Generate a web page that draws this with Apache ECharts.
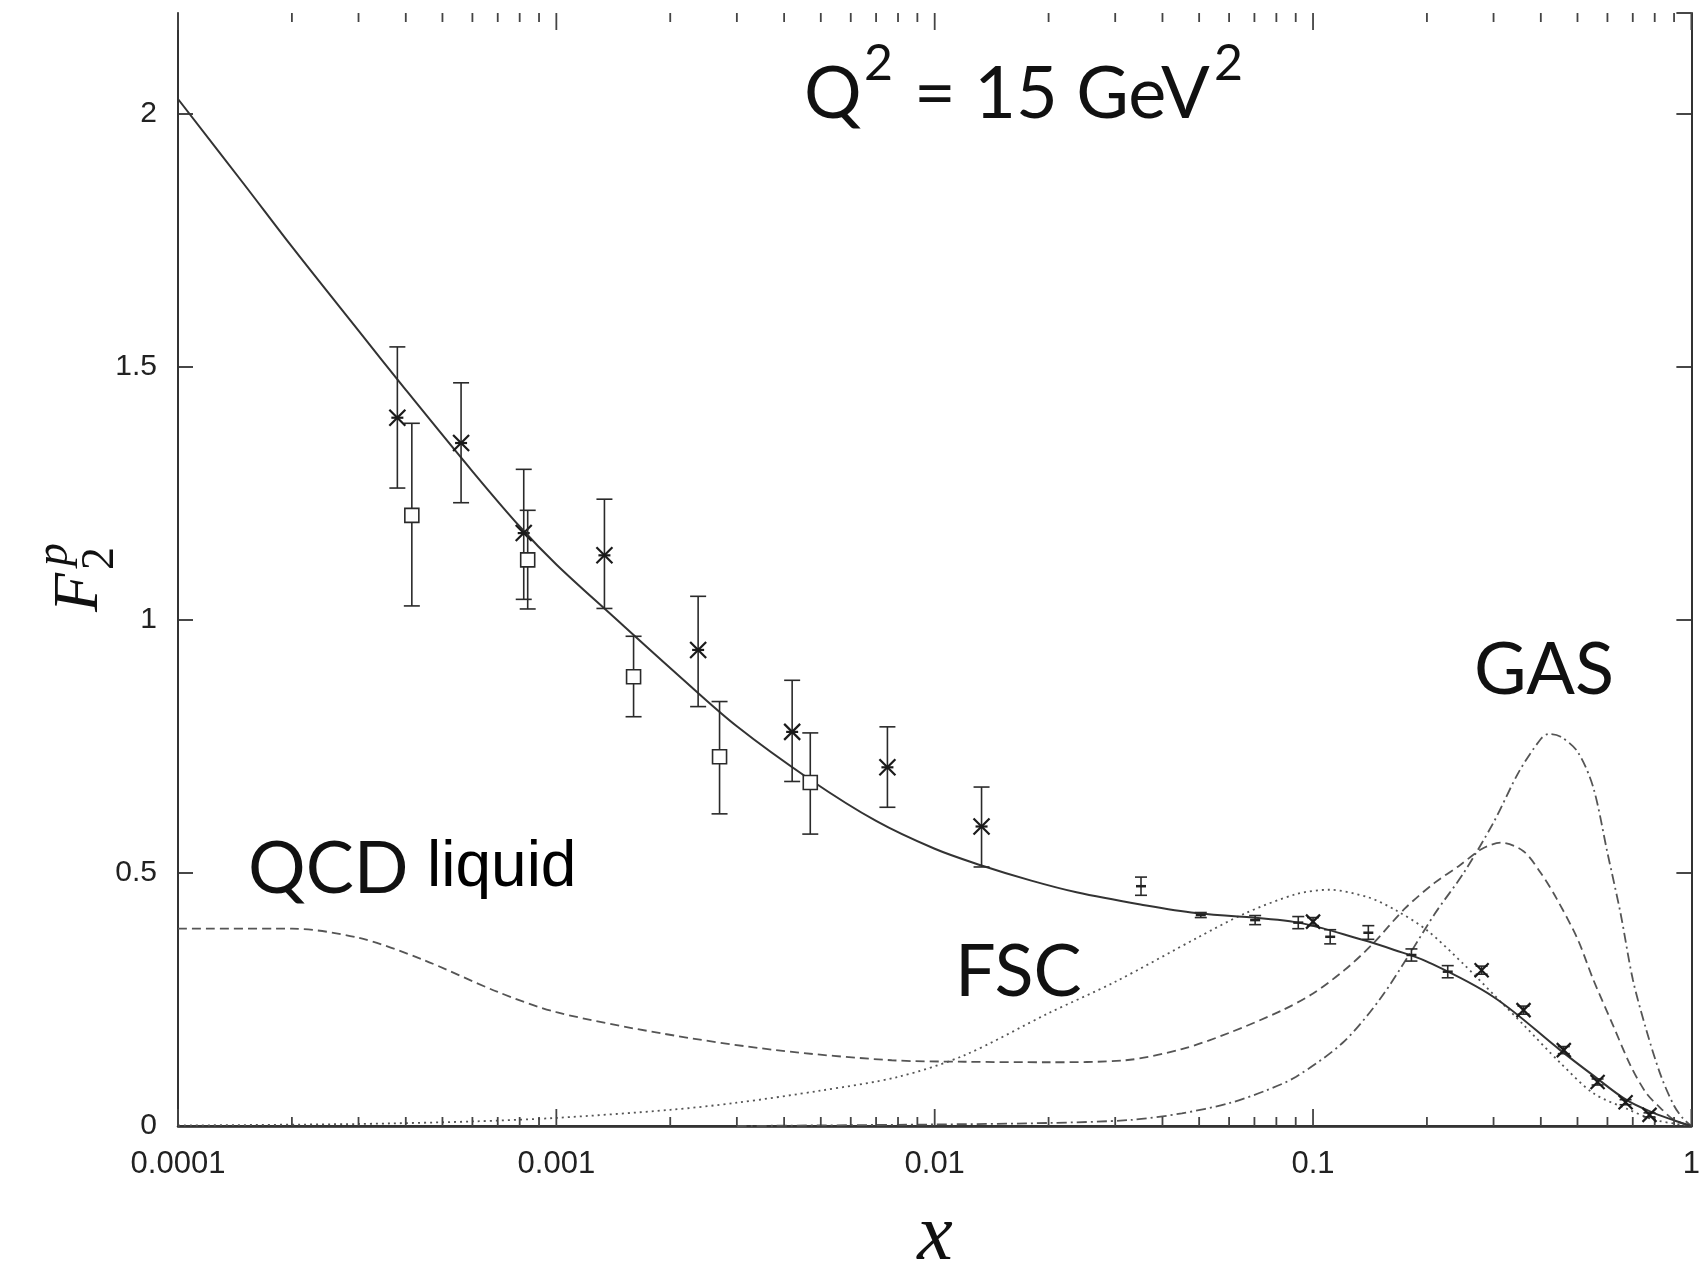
<!DOCTYPE html>
<html lang="en">
<head>
<meta charset="utf-8">
<title>F2p at Q2 = 15 GeV2</title>
<script src="https://cdn.jsdelivr.net/npm/echarts@6/dist/echarts.min.js"></script>
<style>
  html, body { margin: 0; padding: 0; background: #fff; }
  #chart { width: 1703px; height: 1270px; }
</style>
</head>
<body>
<div id="chart"></div>
<script>
// tick labels
var xTickLabels = ['0.0001', '0.001', '0.01', '0.1', '1'];
var yTickLabels = ['0', '0.5', '1', '1.5', '2'];
var minorTicks = [2e-4, 3e-4, 4e-4, 5e-4, 6e-4, 7e-4, 8e-4, 9e-4,
  2e-3, 3e-3, 4e-3, 5e-3, 6e-3, 7e-3, 8e-3, 9e-3,
  0.02, 0.03, 0.04, 0.05, 0.06, 0.07, 0.08, 0.09,
  0.2, 0.3, 0.4, 0.5, 0.6, 0.7, 0.8, 0.9];
var majorTicks = [1e-4, 1e-3, 0.01, 0.1, 1];

// model curves [x, F2]
var totalCurve = [[1e-4, 2.03], [1.5e-4, 1.86], [2e-4, 1.738], [3e-4, 1.572], [4e-4, 1.455],
  [6e-4, 1.294], [8e-4, 1.185], [1e-3, 1.11], [1.4e-3, 1.01], [2.1e-3, 0.891], [3e-3, 0.79],
  [4.7e-3, 0.684], [7e-3, 0.603], [0.01, 0.548], [0.0133, 0.515], [0.018, 0.485], [0.0237, 0.462],
  [0.035, 0.438], [0.049, 0.421], [0.0897, 0.403], [0.135, 0.368], [0.164, 0.348], [0.2, 0.325],
  [0.3, 0.255], [0.45, 0.15], [0.55, 0.1], [0.675, 0.051], [0.8, 0.025], [0.91, 0.01], [1, 0]];
var qcdLiquid = [[1e-4, 0.39], [2e-4, 0.39], [3e-4, 0.372], [4.4e-4, 0.33], [7e-4, 0.265],
  [1e-3, 0.225], [1.9e-3, 0.183], [3.8e-3, 0.15], [7.7e-3, 0.13], [0.012, 0.127], [0.02, 0.126],
  [0.032, 0.13], [0.045, 0.152], [0.06, 0.184], [0.083, 0.229], [0.1, 0.262], [0.121, 0.308],
  [0.143, 0.358], [0.175, 0.43], [0.209, 0.48], [0.244, 0.515], [0.28, 0.548], [0.315, 0.56],
  [0.36, 0.543], [0.4, 0.5], [0.44, 0.45], [0.5, 0.37], [0.55, 0.29], [0.62, 0.2], [0.69, 0.12],
  [0.76, 0.065], [0.83, 0.035], [0.9, 0.012], [1, 0]];
var fscCurve = [[1e-4, 0.001], [3e-4, 0.004], [6e-4, 0.009], [1e-3, 0.016], [2e-3, 0.032],
  [3e-3, 0.046], [5e-3, 0.07], [8e-3, 0.097], [0.012, 0.14], [0.02, 0.223], [0.03, 0.285],
  [0.05, 0.374], [0.066, 0.42], [0.09, 0.458], [0.11, 0.467], [0.14, 0.452], [0.165, 0.427],
  [0.2, 0.387], [0.25, 0.32], [0.3, 0.26], [0.36, 0.2], [0.45, 0.125], [0.55, 0.065],
  [0.68, 0.033], [0.8, 0.012], [1, 0]];
var gasCurve = [[3e-3, 0.0], [0.01, 0.003], [0.02, 0.006], [0.033, 0.012], [0.045, 0.025],
  [0.06, 0.045], [0.075, 0.07], [0.09, 0.097], [0.12, 0.165], [0.15, 0.25], [0.18, 0.34],
  [0.21, 0.42], [0.25, 0.5], [0.3, 0.6], [0.35, 0.7], [0.4, 0.765], [0.42, 0.775], [0.45, 0.77],
  [0.5, 0.74], [0.55, 0.67], [0.6, 0.54], [0.65, 0.42], [0.7, 0.29], [0.76, 0.19], [0.83, 0.1],
  [0.9, 0.04], [0.95, 0.015], [1, 0]];

// measurements [x, F2, low, high]
var starData = [[3.8e-4, 1.40, 1.261, 1.54], [5.6e-4, 1.35, 1.232, 1.469], [8.2e-4, 1.172, 1.041, 1.298],
  [1.34e-3, 1.128, 1.023, 1.239], [2.37e-3, 0.941, 0.829, 1.047], [4.2e-3, 0.779, 0.681, 0.881],
  [7.5e-3, 0.709, 0.63, 0.789], [0.0133, 0.592, 0.512, 0.67]];
var squareData = [[4.15e-4, 1.207, 1.028, 1.389], [8.4e-4, 1.119, 1.022, 1.217], [1.6e-3, 0.888, 0.809, 0.968],
  [2.7e-3, 0.73, 0.617, 0.839], [4.69e-3, 0.679, 0.577, 0.777]];
var smallErrData = [[0.0351, 0.474, 0.456, 0.492], [0.0505, 0.417, 0.412, 0.422], [0.0703, 0.407, 0.398, 0.416],
  [0.0914, 0.402, 0.39, 0.414], [0.111, 0.374, 0.36, 0.388], [0.14, 0.382, 0.369, 0.396],
  [0.182, 0.338, 0.326, 0.35], [0.227, 0.305, 0.293, 0.317]];
var crossData = [[0.1, 0.404, 0.396, 0.412], [0.279, 0.308, 0.3, 0.316], [0.36, 0.229, 0.221, 0.237],
  [0.46, 0.15, 0.143, 0.157], [0.565, 0.087, 0.081, 0.093], [0.67, 0.047, 0.042, 0.052],
  [0.775, 0.022, 0.018, 0.026]];

var myChart = echarts.init(document.getElementById('chart'));

function pointsItem(shape, cap) {
  return function (params, api) {
    var p = api.coord([api.value(0), api.value(1)]);
    var lo = api.coord([api.value(0), api.value(2)]);
    var hi = api.coord([api.value(0), api.value(3)]);
    var st = { stroke: '#2a2a2a', lineWidth: 1.6, fill: 'none' };
    var mk = { stroke: '#1a1a1a', lineWidth: 2.2 };
    var kids = [
      { type: 'line', shape: { x1: p[0], y1: lo[1], x2: p[0], y2: hi[1] }, style: st },
      { type: 'line', shape: { x1: p[0] - cap, y1: lo[1], x2: p[0] + cap, y2: lo[1] }, style: st },
      { type: 'line', shape: { x1: p[0] - cap, y1: hi[1], x2: p[0] + cap, y2: hi[1] }, style: st }
    ];
    var s = 8;
    if (shape === 'star') {
      kids.push({ type: 'line', shape: { x1: p[0] - s, y1: p[1] - s, x2: p[0] + s, y2: p[1] + s }, style: mk });
      kids.push({ type: 'line', shape: { x1: p[0] - s, y1: p[1] + s, x2: p[0] + s, y2: p[1] - s }, style: mk });
      kids.push({ type: 'line', shape: { x1: p[0] - 6, y1: p[1], x2: p[0] + 6, y2: p[1] }, style: mk });
    } else if (shape === 'square') {
      kids.push({ type: 'rect', shape: { x: p[0] - 7, y: p[1] - 7, width: 14, height: 14 }, style: { stroke: '#2a2a2a', lineWidth: 1.6, fill: '#fff' } });
    } else if (shape === 'cross') {
      kids.push({ type: 'line', shape: { x1: p[0] - 7, y1: p[1] - 7, x2: p[0] + 7, y2: p[1] + 7 }, style: mk });
      kids.push({ type: 'line', shape: { x1: p[0] - 7, y1: p[1] + 7, x2: p[0] + 7, y2: p[1] - 7 }, style: mk });
    } else {
      kids.push({ type: 'line', shape: { x1: p[0] - 5, y1: p[1], x2: p[0] + 5, y2: p[1] }, style: { stroke: '#222', lineWidth: 2.5 } });
    }
    return { type: 'group', children: kids };
  };
}

// x ticks on bottom and top frame, inward
function xTickItem(len) {
  return function (params, api) {
    var v = api.value(0);
    var b = api.coord([v, 0]);
    var t = api.coord([v, 2.2]);
    var st = { stroke: '#444', lineWidth: 1.8 };
    return {
      type: 'group', children: [
        { type: 'line', shape: { x1: b[0], y1: b[1], x2: b[0], y2: b[1] - len }, style: st },
        { type: 'line', shape: { x1: t[0], y1: t[1], x2: t[0], y2: t[1] + len }, style: st }
      ]
    };
  };
}

var axisLine = { show: true, lineStyle: { color: '#333', width: 2 } };
var textFont = 'Lato, "DejaVu Sans", sans-serif';
var labelFont = '"Liberation Sans", Arial, sans-serif';

option = {
  backgroundColor: '#fff',
  animation: false,
  grid: { left: 178, right: 5, top: 13, bottom: 144 },
  xAxis: [{
    type: 'log', logBase: 10, min: 1e-4, max: 1, position: 'bottom',
    axisLine: { show: true, lineStyle: { color: '#222', width: 2.5 } },
    axisTick: { show: false },
    splitLine: { show: false },
    axisLabel: {
      margin: 23, color: '#222', fontSize: 31, fontFamily: labelFont,
      formatter: function (v) { return xTickLabels[Math.round(Math.log10(v)) + 4]; }
    }
  }, {
    type: 'log', logBase: 10, min: 1e-4, max: 1, position: 'top',
    axisLine: axisLine, axisTick: { show: false },
    splitLine: { show: false }, axisLabel: { show: false }
  }],
  yAxis: [{
    type: 'value', min: 0, max: 2.2, interval: 0.5, position: 'left',
    axisLine: axisLine,
    axisTick: { show: true, inside: true, length: 15, lineStyle: { color: '#333', width: 1.8 } },
    splitLine: { show: false },
    axisLabel: {
      margin: 21, color: '#222', fontSize: 30, fontFamily: labelFont,
      showMaxLabel: false,
      formatter: function (v) { var i = Math.round(v / 0.5); return Math.abs(v - i * 0.5) < 1e-9 ? yTickLabels[i] : ''; }
    }
  }, {
    type: 'value', min: 0, max: 2.2, interval: 0.5, position: 'right',
    axisLine: axisLine,
    axisTick: { show: true, inside: true, length: 15, lineStyle: { color: '#333', width: 1.8 } },
    splitLine: { show: false }, axisLabel: { show: false }
  }],
  series: [
    { name: 'total', type: 'line', data: totalCurve, showSymbol: false, smooth: 0.35,
      lineStyle: { color: '#333', width: 2 }, z: 3 },
    { name: 'QCD liquid', type: 'line', data: qcdLiquid, showSymbol: false, smooth: 0.3,
      lineStyle: { color: '#555', width: 1.8, type: [9, 5] }, z: 2 },
    { name: 'FSC', type: 'line', data: fscCurve, showSymbol: false, smooth: 0.3,
      lineStyle: { color: '#555', width: 1.8, type: [2, 4] }, z: 2 },
    { name: 'GAS', type: 'line', data: gasCurve, showSymbol: false, smooth: 0.3,
      lineStyle: { color: '#555', width: 1.8, type: [10, 4, 2, 4] }, z: 2 },
    { type: 'custom', data: minorTicks.map(function (v) { return [v, 0]; }), renderItem: xTickItem(9),
      encode: { x: 0, y: 1 }, clip: false, silent: true, z: 5 },
    { type: 'custom', data: majorTicks.map(function (v) { return [v, 0]; }), renderItem: xTickItem(17),
      encode: { x: 0, y: 1 }, clip: false, silent: true, z: 5 },
    { type: 'custom', data: starData, renderItem: pointsItem('star', 8), encode: { x: 0, y: 1 }, z: 6 },
    { type: 'custom', data: squareData, renderItem: pointsItem('square', 8), encode: { x: 0, y: 1 }, z: 6 },
    { type: 'custom', data: smallErrData, renderItem: pointsItem('bar', 6), encode: { x: 0, y: 1 }, z: 6 },
    { type: 'custom', data: crossData, renderItem: pointsItem('cross', 6), encode: { x: 0, y: 1 }, z: 6 }
  ],
  graphic: [
    // Q^2 = 15 GeV^2
    { type: 'text', x: 804, y: 95, style: { text: 'Q', font: '72px ' + textFont, fill: '#111', verticalAlign: 'middle' } },
    { type: 'text', x: 864, y: 64, style: { text: '2', font: '50px ' + textFont, fill: '#111', verticalAlign: 'middle' } },
    { type: 'text', x: 914, y: 95, style: { text: '= 15 GeV', font: '72px ' + textFont, fill: '#111', verticalAlign: 'middle' } },
    { type: 'text', x: 1214, y: 64, style: { text: '2', font: '50px ' + textFont, fill: '#111', verticalAlign: 'middle' } },
    // curve labels
    { type: 'text', x: 248, y: 870, style: { text: 'QCD', font: '72px ' + textFont, fill: '#111', verticalAlign: 'middle' } },
    { type: 'text', x: 427, y: 868, style: { text: 'liquid', font: '64px ' + labelFont, fill: '#000', verticalAlign: 'middle' } },
    { type: 'text', x: 955, y: 973, style: { text: 'FSC', font: '72px ' + textFont, fill: '#111', verticalAlign: 'middle' } },
    { type: 'text', x: 1474, y: 671, style: { text: 'GAS', font: '72px ' + textFont, fill: '#111', verticalAlign: 'middle' } },
    // axis names
    { type: 'text', x: 935, y: 1238, style: { text: 'x', font: 'italic 80px "Liberation Serif", "DejaVu Serif", serif', fill: '#111', align: 'center', verticalAlign: 'middle' } },
    { type: 'group', x: 80, y: 612, rotation: Math.PI / 2, children: [
      { type: 'text', x: 0, y: 0, style: { text: 'F', font: 'italic 64px "Liberation Serif", serif', fill: '#111', verticalAlign: 'middle' } },
      { type: 'text', x: 46, y: -25, style: { text: 'p', font: 'italic 46px "Liberation Serif", serif', fill: '#111', verticalAlign: 'middle' } },
      { type: 'text', x: 42, y: 21, style: { text: '2', font: '46px "Liberation Serif", serif', fill: '#111', verticalAlign: 'middle' } }
    ] }
  ]
};

myChart.setOption(option);
</script>
</body>
</html>
